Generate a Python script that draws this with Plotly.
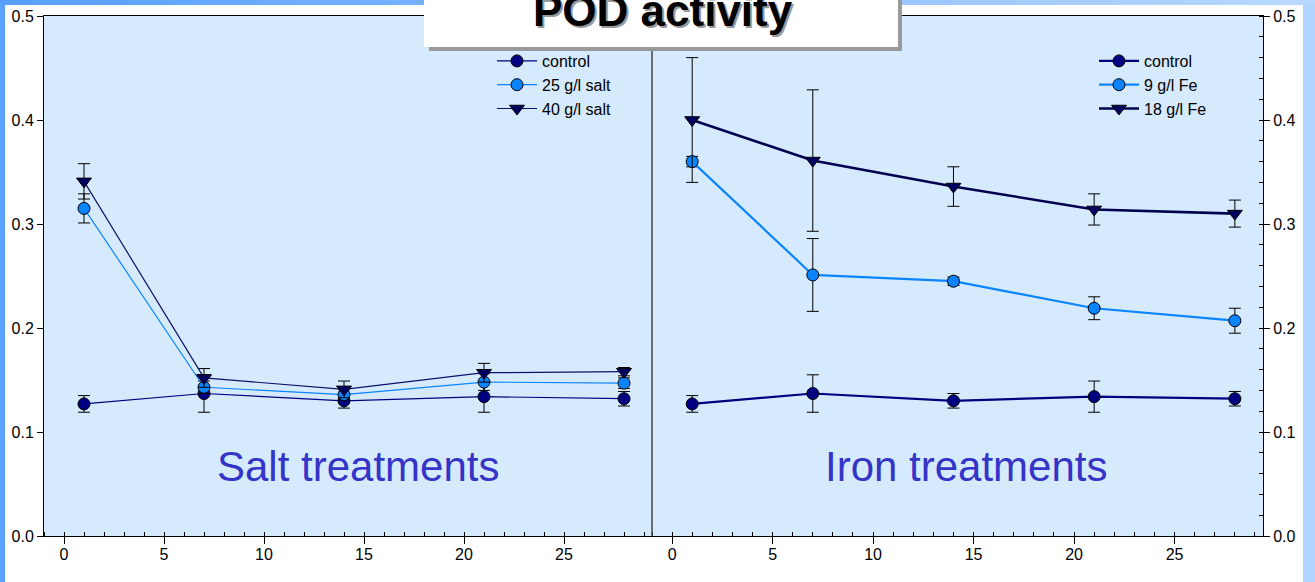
import plotly.graph_objects as go

W, H = 1315, 582

# ---------------- data ----------------
days = [1, 7, 14, 21, 28]

control = [0.127, 0.137, 0.130, 0.134, 0.132]
control_err = [0.008, 0.018, 0.007, 0.015, 0.007]

salt25 = [0.315, 0.143, 0.136, 0.148, 0.147]
salt25_err = [0.014, 0.006, 0.005, 0.008, 0.005]

salt40 = [0.341, 0.152, 0.141, 0.157, 0.158]
salt40_err = [0.017, 0.009, 0.008, 0.009, 0.004]

fe9 = [0.360, 0.251, 0.245, 0.219, 0.207]
fe9_err = [0.005, 0.035, 0.004, 0.011, 0.012]

fe18 = [0.400, 0.361, 0.336, 0.314, 0.310]
fe18_err = [0.060, 0.068, 0.019, 0.015, 0.013]

left_names = ["control", "25 g/l salt", "40 g/l salt"]
right_names = ["control", "9 g/l Fe", "18 g/l Fe"]
x_ticks = [0, 5, 10, 15, 20, 25]
y_ticks = [0.0, 0.1, 0.2, 0.3, 0.4, 0.5]

FONT = "Liberation Sans, Arial, sans-serif"
NAVY = "#000080"
SKY = "#0a84ff"
DARK = "#000060"


def px(x):
    return x / W


def py(y):
    return 1 - y / H


def err(a):
    return dict(type="data", array=a, visible=True, color="black", thickness=1, width=6)


fig = go.Figure()

# left panel (salt)
specs_left = [
    (control, control_err, left_names[0], NAVY, NAVY, "circle", 12),
    (salt25, salt25_err, left_names[1], SKY, SKY, "circle", 12),
    (salt40, salt40_err, left_names[2], "#10106a", DARK, "triangle-down", 13),
]
for yv, ye, name, lc, mc, sym, sz in specs_left:
    fig.add_trace(go.Scatter(
        x=days, y=yv, error_y=err(ye), name=name, mode="lines+markers",
        line=dict(color=lc, width=1.2),
        marker=dict(color=mc, symbol=sym, size=sz, line=dict(color="black", width=1)),
        xaxis="x", yaxis="y", legend="legend",
    ))

specs_right = [
    (control, control_err, right_names[0], NAVY, NAVY, "circle", 12, 2.2),
    (fe9, fe9_err, right_names[1], SKY, SKY, "circle", 12, 2.2),
    (fe18, fe18_err, right_names[2], "#000050", DARK, "triangle-down", 13, 2.6),
]
for yv, ye, name, lc, mc, sym, sz, lw in specs_right:
    fig.add_trace(go.Scatter(
        x=days, y=yv, error_y=err(ye), name=name, mode="lines+markers",
        line=dict(color=lc, width=lw),
        marker=dict(color=mc, symbol=sym, size=sz, line=dict(color="black", width=1)),
        xaxis="x2", yaxis="y2", legend="legend2",
    ))

x_left = [px(44), px(652)]
x_right = [px(652), px(1263)]
y_dom = [py(536), py(16)]

axis_font = dict(family=FONT, size=16, color="black")
xcommon = dict(
    range=[-1, 29.4], tickvals=x_ticks, ticks="outside", ticklen=7, tickcolor="black",
    showline=True, linecolor="black", linewidth=1, mirror=True, showgrid=False,
    zeroline=False, tickfont=axis_font, ticklabelstandoff=-3, automargin=False,
    minor=dict(dtick=1, tick0=0, ticks="inside", ticklen=4, tickcolor="black", showgrid=False),
)
ycommon = dict(
    range=[0, 0.5], tickvals=y_ticks, tickformat=".1f", ticks="outside", ticklen=6,
    tickcolor="black", showline=True, linecolor="black", linewidth=1, showgrid=False,
    zeroline=False, tickfont=axis_font, automargin=False,
)

fig.update_layout(
    width=W, height=H, autosize=False,
    margin=dict(l=0, r=0, t=0, b=0, autoexpand=False),
    paper_bgcolor="white",
    plot_bgcolor="#d6eafd",
    xaxis=dict(domain=x_left, anchor="y", **xcommon),
    yaxis=dict(domain=y_dom, anchor="x", side="left", **ycommon),
    xaxis2=dict(domain=x_right, anchor="y2", **xcommon),
    yaxis2=dict(domain=y_dom, anchor="x2", side="right",
                minor=dict(dtick=0.02, tick0=0, ticks="inside", ticklen=4, tickcolor="black",
                           showgrid=False),
                **ycommon),
    legend=dict(x=px(492), y=py(44), xanchor="left", yanchor="top",
                bgcolor="rgba(0,0,0,0)", borderwidth=0, itemwidth=40,
                font=dict(family=FONT, size=16, color="black"), tracegroupgap=0),
    legend2=dict(x=px(1094), y=py(44), xanchor="left", yanchor="top",
                 bgcolor="rgba(0,0,0,0)", borderwidth=0, itemwidth=40,
                 font=dict(family=FONT, size=16, color="black"), tracegroupgap=0),
    showlegend=True,
)

shapes = []
# slide background strips
shapes.append(dict(type="rect", xref="paper", yref="paper", x0=0, x1=px(5), y0=0, y1=1,
                   fillcolor="#5aa2ff", line=dict(width=0), layer="below"))
shapes.append(dict(type="rect", xref="paper", yref="paper", x0=px(1303), x1=1, y0=0, y1=1,
                   fillcolor="#b0d3ff", line=dict(width=0), layer="below"))
nseg = 40
c0 = (0x58, 0xa0, 0xff)
c1 = (0xb8, 0xd8, 0xff)
for i in range(nseg):
    t = i / (nseg - 1)
    col = "rgb(%d,%d,%d)" % tuple(round(a + (b - a) * t) for a, b in zip(c0, c1))
    shapes.append(dict(type="rect", xref="paper", yref="paper",
                       x0=i / nseg, x1=(i + 1) / nseg + 0.001, y0=py(5), y1=1,
                       fillcolor=col, line=dict(width=0), layer="below"))
# panel divider
shapes.append(dict(type="line", xref="paper", yref="paper", x0=px(652), x1=px(652),
                   y0=py(536), y1=py(16), line=dict(color="#444444", width=1.5)))
# title box with shadow
shapes.append(dict(type="rect", xref="paper", yref="paper", x0=px(429), x1=px(902),
                   y0=py(51), y1=1.05, fillcolor="#999999", line=dict(width=0), layer="above"))
shapes.append(dict(type="rect", xref="paper", yref="paper", x0=px(424), x1=px(898),
                   y0=py(47), y1=1.05, fillcolor="white", line=dict(width=0), layer="above"))
fig.update_layout(shapes=shapes)

title_font = dict(family=FONT, size=44, color="black")
fig.add_annotation(text="<b>POD activity</b>", xref="paper", yref="paper",
                   x=px(664.5), y=py(12), xanchor="center", yanchor="middle",
                   showarrow=False, font=dict(family=FONT, size=44, color="#9a9a9a"))
fig.add_annotation(text="<b>POD activity</b>", xref="paper", yref="paper",
                   x=px(662.5), y=py(10), xanchor="center", yanchor="middle",
                   showarrow=False, font=title_font)

lab_font = dict(family=FONT, size=42, color="#3434c8")
fig.add_annotation(text="Salt treatments", xref="paper", yref="paper",
                   x=px(357.5), y=py(466), xanchor="center", yanchor="middle",
                   showarrow=False, font=lab_font)
fig.add_annotation(text="Iron treatments", xref="paper", yref="paper",
                   x=px(965.5), y=py(466), xanchor="center", yanchor="middle",
                   showarrow=False, font=lab_font)

fig.write_html(
    "out.html",
    config={"displayModeBar": False, "responsive": False},
    post_script="document.body.style.margin='0';document.body.style.overflow='hidden';",
)
